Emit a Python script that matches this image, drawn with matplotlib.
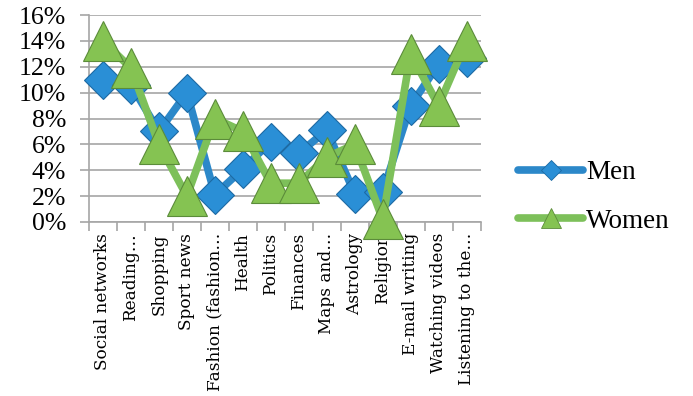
# internet_activities.py — share of men and women by online activity

import matplotlib
import matplotlib.pyplot as plt
from matplotlib.lines import Line2D
from matplotlib.ticker import FuncFormatter, MultipleLocator

matplotlib.use("Agg")

# ── 1. Data ──────────────────────────────────────────────────────────────────

categories = [
    "Social networks", "Reading…", "Shopping", "Sport news",
    "Fashion (fashion…", "Health", "Politics", "Finances", "Maps and…",
    "Astrology", "Religion", "E-mail writing", "Watching videos",
    "Listening to the…",
]
men = [0.110, 0.106, 0.070, 0.100, 0.021, 0.041, 0.062, 0.053, 0.071,
       0.022, 0.023, 0.090, 0.122, 0.127]
women = [0.140, 0.119, 0.060, 0.020, 0.080, 0.070, 0.030, 0.030, 0.050,
         0.060, 0.002, 0.130, 0.090, 0.140]

# ── 2. Colours ───────────────────────────────────────────────────────────────

BLUE_LINE = "#2C88C9"
BLUE_FACE = "#2A8FD6"
BLUE_EDGE = "#1D6AA3"
GREEN_LINE = "#7DC05A"
GREEN_FACE = "#85C352"
GREEN_EDGE = "#5B8C3A"
GRID = "#A6A6A6"

# ── 3. Figure ────────────────────────────────────────────────────────────────

fig = plt.figure(figsize=(6.93, 3.96), dpi=100)
ax = fig.add_axes([0.1284, 0.4394, 0.5650, 0.5227])

x = list(range(len(categories)))

ax.plot(x, men, color=BLUE_LINE, lw=5.5, solid_joinstyle="round",
        marker="D", markersize=19, markerfacecolor=BLUE_FACE,
        markeredgecolor=BLUE_EDGE, markeredgewidth=0.8, zorder=3,
        clip_on=False)
ax.plot(x, women, color=GREEN_LINE, lw=5.5, solid_joinstyle="round",
        marker="^", markersize=29.5, markerfacecolor=GREEN_FACE,
        markeredgecolor=GREEN_EDGE, markeredgewidth=0.8, zorder=4,
        clip_on=False)

# ── 4. Axes styling ──────────────────────────────────────────────────────────

ax.set_xlim(-0.5, len(categories) - 0.5)
ax.set_ylim(0, 0.16)
ax.yaxis.set_major_locator(MultipleLocator(0.02))
ax.yaxis.set_major_formatter(FuncFormatter(lambda v, _: f"{v * 100:.0f}%"))
ax.yaxis.grid(True, color=GRID, lw=1.2)
ax.set_axisbelow(True)

ax.set_xticks(x)
ax.set_xticklabels(categories, rotation=90, fontfamily="DejaVu Serif",
                   fontsize=12.2)
ax.set_xticks([i - 0.5 for i in range(len(categories) + 1)], minor=True)
ax.tick_params(axis="x", which="major", length=0, pad=8)
ax.tick_params(axis="x", which="minor", length=6.5, color=GRID, width=1.2)
ax.tick_params(axis="y", length=6.5, color=GRID, width=1.2, pad=10)
for lab in ax.get_yticklabels():
    lab.set_fontfamily("Liberation Serif")
    lab.set_fontsize(18.5)

for side in ["top", "right"]:
    ax.spines[side].set_visible(False)
for side in ["left", "bottom"]:
    ax.spines[side].set_color(GRID)
    ax.spines[side].set_linewidth(1.2)

# ── 5. Legend ────────────────────────────────────────────────────────────────

handles = [
    Line2D([], [], color=BLUE_LINE, lw=5.5, solid_capstyle="round",
           marker="D", markersize=10, markerfacecolor=BLUE_FACE,
           markeredgecolor=BLUE_EDGE, markeredgewidth=0.6),
    Line2D([], [], color=GREEN_LINE, lw=5.5, solid_capstyle="round",
           marker="^", markersize=15, markerfacecolor=GREEN_FACE,
           markeredgecolor=GREEN_EDGE, markeredgewidth=0.6),
]
fig.legend(handles, ["Men", "Women"], loc="center left",
           bbox_to_anchor=(0.748, 0.5025), frameon=False,
           borderpad=0, borderaxespad=0, handlelength=2.4,
           handletextpad=0.1, labelspacing=0.85,
           prop={"family": "Liberation Serif", "size": 19.5})

fig.savefig("out.png", dpi=100)
